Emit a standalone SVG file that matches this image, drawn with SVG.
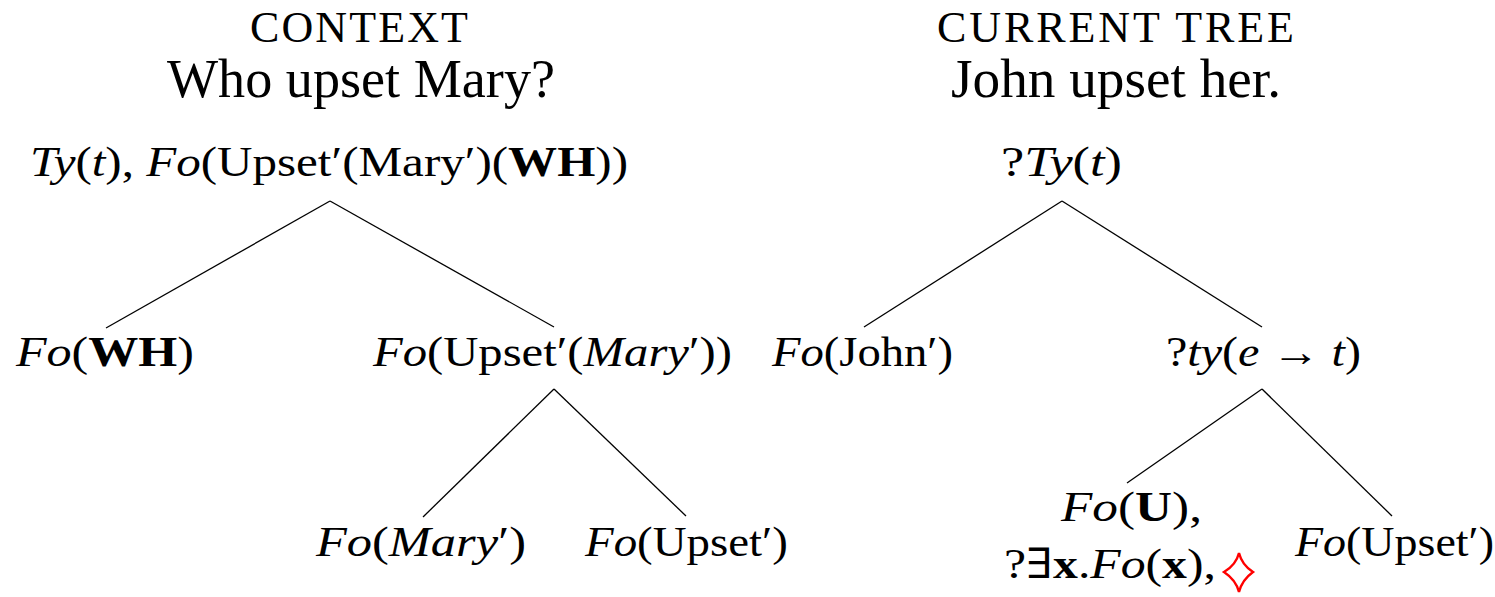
<svg xmlns="http://www.w3.org/2000/svg" width="1495" height="597" viewBox="0 0 1495 597">
  <style>
    text { font-family: "Liberation Serif", "DejaVu Serif", serif; fill: #000; }
    .title { font-size: 44px; }
    .sent { font-size: 55px; }
    .lbl { font-size: 42px; }
    .i { font-style: italic; }
    .b { font-weight: bold; }
    .edge { stroke: #000; stroke-width: 1.3; fill: none; }
  </style>

  <!-- headings -->
  <g id="heading-context">
    <text class="title" x="250" y="42" textLength="218" lengthAdjust="spacing">CONTEXT</text>
    <text class="sent" x="167" y="97" textLength="388" lengthAdjust="spacingAndGlyphs">Who upset Mary?</text>
  </g>
  <g id="heading-current">
    <text class="title" x="937" y="42" textLength="357" lengthAdjust="spacing">CURRENT TREE</text>
    <text class="sent" x="951" y="97" textLength="330" lengthAdjust="spacingAndGlyphs">John upset her.</text>
  </g>

  <!-- connectors -->
  <g id="connectors">
    <line class="edge" x1="330" y1="201" x2="106" y2="328"/>
    <line class="edge" x1="330" y1="201" x2="554" y2="327"/>
    <line class="edge" x1="554" y1="389" x2="423" y2="517"/>
    <line class="edge" x1="554" y1="389" x2="686" y2="516"/>
    <line class="edge" x1="1062" y1="201" x2="864" y2="327"/>
    <line class="edge" x1="1062" y1="201" x2="1262" y2="327"/>
    <line class="edge" x1="1262" y1="389" x2="1127" y2="483"/>
    <line class="edge" x1="1262" y1="389" x2="1392" y2="516"/>
  </g>

  <!-- context tree -->
  <g id="ctx-root">
    <text class="lbl" x="30" y="176" textLength="598" lengthAdjust="spacingAndGlyphs"><tspan class="i">Ty</tspan>(<tspan class="i">t</tspan>), <tspan class="i">Fo</tspan>(Upset′(Mary′)(<tspan class="b">WH</tspan>))</text>
  </g>
  <g id="ctx-wh">
    <text class="lbl" x="16" y="366" textLength="178" lengthAdjust="spacingAndGlyphs"><tspan class="i">Fo</tspan>(<tspan class="b">WH</tspan>)</text>
  </g>
  <g id="ctx-pred">
    <text class="lbl" x="373" y="366" textLength="359" lengthAdjust="spacingAndGlyphs"><tspan class="i">Fo</tspan>(Upset′(<tspan class="i">Mary</tspan>′))</text>
  </g>
  <g id="ctx-mary">
    <text class="lbl" x="316" y="556" textLength="210" lengthAdjust="spacingAndGlyphs"><tspan class="i">Fo</tspan>(<tspan class="i">Mary</tspan>′)</text>
  </g>
  <g id="ctx-upset">
    <text class="lbl" x="585" y="556" textLength="203" lengthAdjust="spacingAndGlyphs"><tspan class="i">Fo</tspan>(Upset′)</text>
  </g>

  <!-- current tree -->
  <g id="cur-root">
    <text class="lbl" x="1001" y="176" textLength="121" lengthAdjust="spacingAndGlyphs">?<tspan class="i">Ty</tspan>(<tspan class="i">t</tspan>)</text>
  </g>
  <g id="cur-john">
    <text class="lbl" x="772" y="366" textLength="181" lengthAdjust="spacingAndGlyphs"><tspan class="i">Fo</tspan>(John′)</text>
  </g>
  <g id="cur-pred">
    <text class="lbl" x="1166" y="366" textLength="195" lengthAdjust="spacingAndGlyphs">?<tspan class="i">ty</tspan>(<tspan class="i">e</tspan> → <tspan class="i">t</tspan>)</text>
  </g>
  <g id="cur-subj">
    <text class="lbl" x="1061" y="521" textLength="141" lengthAdjust="spacingAndGlyphs"><tspan class="i">Fo</tspan>(<tspan class="b">U</tspan>),</text>
    <text class="lbl" x="1004" y="578" textLength="212" lengthAdjust="spacingAndGlyphs">?∃<tspan class="b">x</tspan>.<tspan class="i">Fo</tspan>(<tspan class="b">x</tspan>),</text>
    <!-- red diamond suit marking the pointer -->
    <path d="M1239,553 Q1242,565 1253,572 Q1242,580 1239,592 Q1236,580 1224,572 Q1236,565 1239,553 Z" fill="none" stroke="#ff0000" stroke-width="2.4" stroke-linejoin="miter"/>
  </g>
  <g id="cur-upset">
    <text class="lbl" x="1295" y="556" textLength="199" lengthAdjust="spacingAndGlyphs"><tspan class="i">Fo</tspan>(Upset′)</text>
  </g>
</svg>
